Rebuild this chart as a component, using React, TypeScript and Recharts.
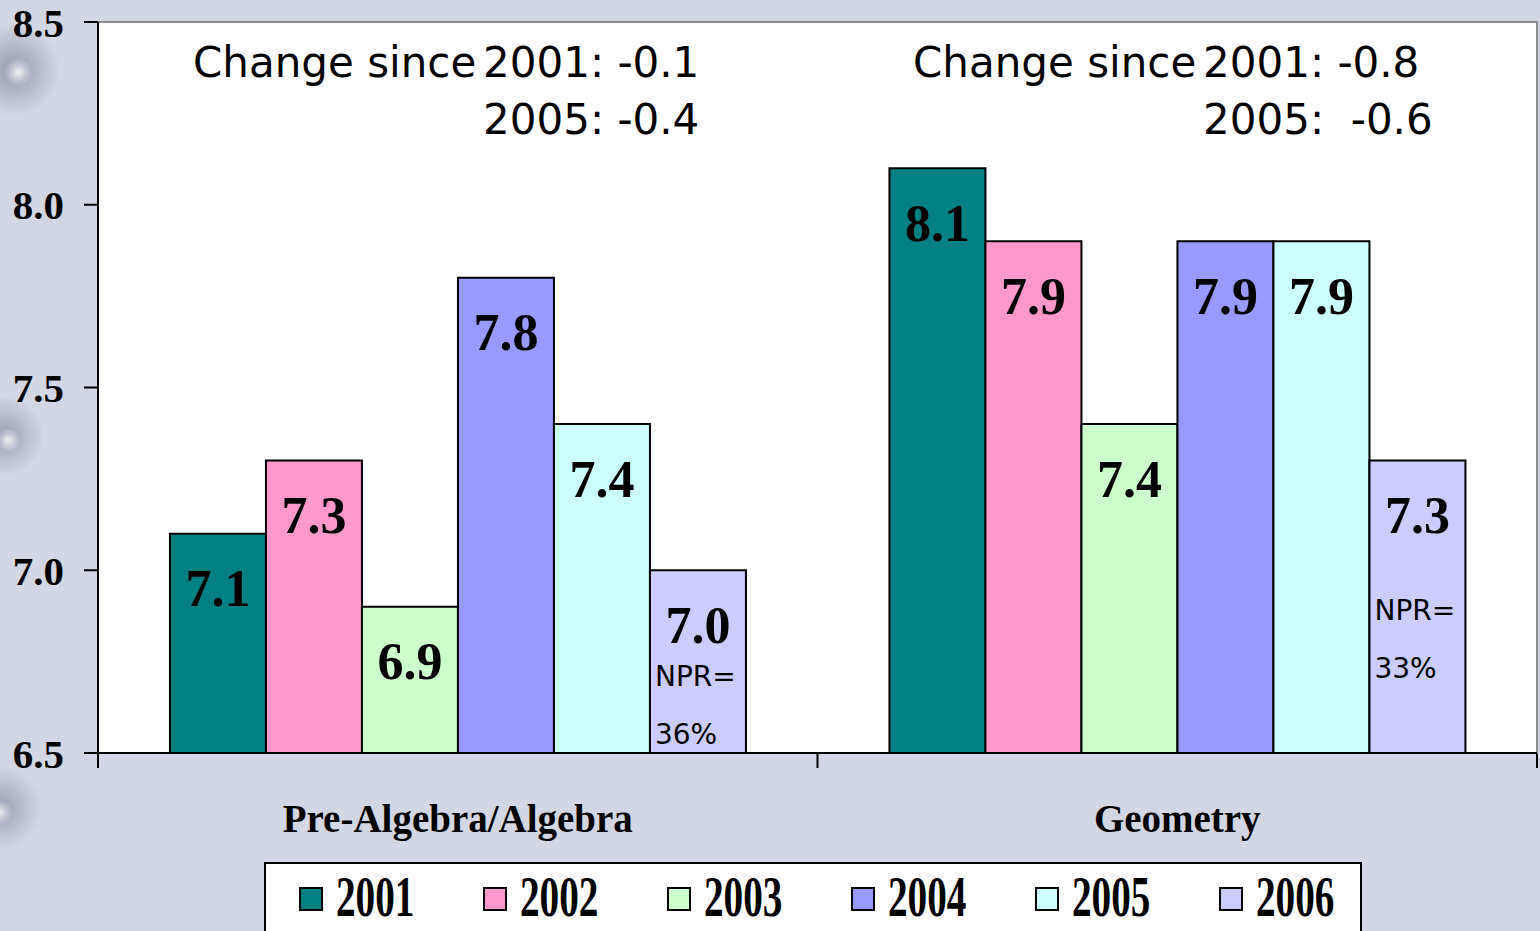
import { BarChart, Bar, XAxis, YAxis, ReferenceArea, LabelList, CartesianGrid } from "recharts";

const categories = ["Pre-Algebra/Algebra", "Geometry"];
const years = ["2001", "2002", "2003", "2004", "2005", "2006"];
const scores2001 = [7.1, 8.1];
const scores2002 = [7.3, 7.9];
const scores2003 = [6.9, 7.4];
const scores2004 = [7.8, 7.9];
const scores2005 = [7.4, 7.9];
const scores2006 = [7.0, 7.3];
const npr2006 = ["36%", "33%"];
const yTicks = [6.5, 7.0, 7.5, 8.0, 8.5];
// category boundaries as fractions of the x span
const edgeTicks = [0, 0.5, 1];
const changeSince2001 = ["-0.1", "-0.8"];
const changeSince2005 = ["-0.4", "-0.6"];

const colors = ["#008080", "#ff99cc", "#ccffcc", "#9999ff", "#ccffff", "#ccccff"];
const serif = '"Liberation Serif", "Times New Roman", serif';
const sans = '"DejaVu Sans", Verdana, sans-serif';

const seriesValues = [scores2001, scores2002, scores2003, scores2004, scores2005, scores2006];

const data = categories.map((name, i) => {
  const row: Record<string, string | number> = { name, npr: npr2006[i] };
  years.forEach((year, s) => {
    row[year] = seriesValues[s][i];
  });
  return row;
});

// value label sits inside the top of each bar
const renderValue = (props: any) => {
  const { x, y, width, value } = props;
  return (
    <text
      x={Number(x) + Number(width) / 2}
      y={Number(y) + 55}
      textAnchor="middle"
      dominantBaseline="central"
      fontFamily={serif}
      fontWeight="bold"
      fontSize={52}
      fill="#000"
    >
      {Number(value).toFixed(1)}
    </text>
  );
};

const nprOffsets = [106, 150];
const renderNpr = (props: any) => {
  const { x, y, index, value } = props;
  const top = Number(y) + nprOffsets[index];
  const style = { fontFamily: sans, fontSize: 28, fill: "#000" };
  return (
    <g>
      <text x={Number(x) + 5} y={top} dominantBaseline="central" style={style}>
        NPR=
      </text>
      <text x={Number(x) + 5} y={top + 58} dominantBaseline="central" style={style}>
        {value}
      </text>
    </g>
  );
};

const CategoryTick = (props: any) => {
  const { x, y, payload } = props;
  return (
    <text
      x={x}
      y={y + 65}
      textAnchor="middle"
      dominantBaseline="central"
      fontFamily={serif}
      fontWeight="bold"
      fontSize={39}
      fill="#000"
    >
      {payload.value}
    </text>
  );
};

const blobs =
  "radial-gradient(circle at 18px 72px, rgba(255,255,255,0.85) 0px, rgba(255,255,255,0) 14px), " +
  "radial-gradient(circle at 14px 70px, rgba(95,100,130,0.55) 0px, rgba(95,100,130,0) 46px), " +
  "radial-gradient(circle at 8px 440px, rgba(255,255,255,0.85) 0px, rgba(255,255,255,0) 12px), " +
  "radial-gradient(circle at 4px 436px, rgba(95,100,130,0.5) 0px, rgba(95,100,130,0) 40px), " +
  "radial-gradient(circle at 0px 812px, rgba(255,255,255,0.8) 0px, rgba(255,255,255,0) 12px), " +
  "radial-gradient(circle at 0px 808px, rgba(95,100,130,0.5) 0px, rgba(95,100,130,0) 42px)";

// x positions of the "Change since" notes
const notePos = [
  { label: 193, year: 483, gap2005: " " },
  { label: 913, year: 1203, gap2005: "\u00a0 " },
];

export default function App() {
  return (
    <div
      style={{
        position: "absolute",
        left: 0,
        top: 0,
        width: 1540,
        height: 931,
        overflow: "hidden",
        backgroundColor: "#d3d7e3",
        backgroundImage: blobs,
      }}
    >
      <div style={{ position: "absolute", left: 0, top: 0 }}>
        <BarChart
          width={1540}
          height={931}
          data={data}
          margin={{ top: 22, right: 3, bottom: 176, left: 0 }}
          barCategoryGap="10%"
          barGap={0}
        >
          <CartesianGrid
            xAxisId="cat"
            horizontal={false}
            vertical={false}
            fill="#ffffff"
            fillOpacity={1}
          />
          <ReferenceArea
            xAxisId="edges"
            x1={0}
            x2={1}
            y1={6.5}
            y2={8.5}
            fill="#ffffff"
            fillOpacity={1}
            stroke="#8c8c8c"
            strokeWidth={2}
            ifOverflow="visible"
          />
          <XAxis
            xAxisId="edges"
            type="number"
            domain={[0, 1]}
            ticks={edgeTicks}
            interval={0}
            height={1}
            axisLine={false}
            stroke="#000"
            tickLine={{ stroke: "#000", strokeWidth: 2 }}
            tickSize={14}
            tickFormatter={() => "\u00a0"}
            allowDataOverflow
          />
          <XAxis
            xAxisId="cat"
            dataKey="name"
            height={1}
            interval={0}
            stroke="#000"
            strokeWidth={2}
            tickLine={false}
            tickSize={0}
            tickMargin={0}
            axisLine={{ stroke: "#000", strokeWidth: 2 }}
            tick={<CategoryTick />}
          />
          <YAxis
            width={98}
            domain={[6.5, 8.5]}
            ticks={yTicks}
            interval={0}
            stroke="#000"
            strokeWidth={2}
            tickFormatter={(v: number) => v.toFixed(1)}
            axisLine={{ stroke: "#000", strokeWidth: 2 }}
            tickLine={{ stroke: "#000", strokeWidth: 2 }}
            tickSize={14}
            tickMargin={20}
            tick={{ fontFamily: serif, fontWeight: "bold", fontSize: 41, fill: "#000" }}
          />
          {years.map((year, s) => (
            <Bar
              key={year}
              xAxisId="cat"
              dataKey={year}
              fill={colors[s]}
              stroke="#000"
              strokeWidth={2}
              isAnimationActive={false}
            >
              <LabelList dataKey={year} content={renderValue} />
              {year === "2006" && <LabelList dataKey="npr" content={renderNpr} />}
            </Bar>
          ))}
        </BarChart>
      </div>

      {/* change-since notes over each group */}
      <svg
        width={1540}
        height={931}
        style={{ position: "absolute", left: 0, top: 0, pointerEvents: "none" }}
      >
        {categories.map((cat, i) => (
          <g key={cat} fontFamily={sans} fontSize={42} fill="#000">
            <text x={notePos[i].label} y={77}>Change since</text>
            <text x={notePos[i].year} y={77}>{`2001: ${changeSince2001[i]}`}</text>
            <text x={notePos[i].year} y={134}>
              {`2005:${notePos[i].gap2005}${changeSince2005[i]}`}
            </text>
          </g>
        ))}
      </svg>

      {/* legend */}
      <div
        style={{
          position: "absolute",
          left: 264,
          top: 862,
          width: 1098,
          height: 90,
          border: "2px solid #000",
          background: "#fff",
          display: "flex",
          paddingLeft: 33,
          boxSizing: "border-box",
        }}
      >
        {years.map((year, s) => (
          <div
            key={year}
            style={{ width: 184, height: 70, display: "flex", alignItems: "center", flexShrink: 0 }}
          >
            <span
              style={{
                display: "inline-block",
                width: 20,
                height: 20,
                border: "2px solid #000",
                background: colors[s],
                marginRight: 13,
              }}
            />
            <span
              style={{
                display: "inline-block",
                fontFamily: serif,
                fontWeight: "bold",
                fontSize: 56,
                lineHeight: "56px",
                transform: "scaleX(0.7)",
                transformOrigin: "left center",
                marginTop: -4,
              }}
            >
              {year}
            </span>
          </div>
        ))}
      </div>
    </div>
  );
}
